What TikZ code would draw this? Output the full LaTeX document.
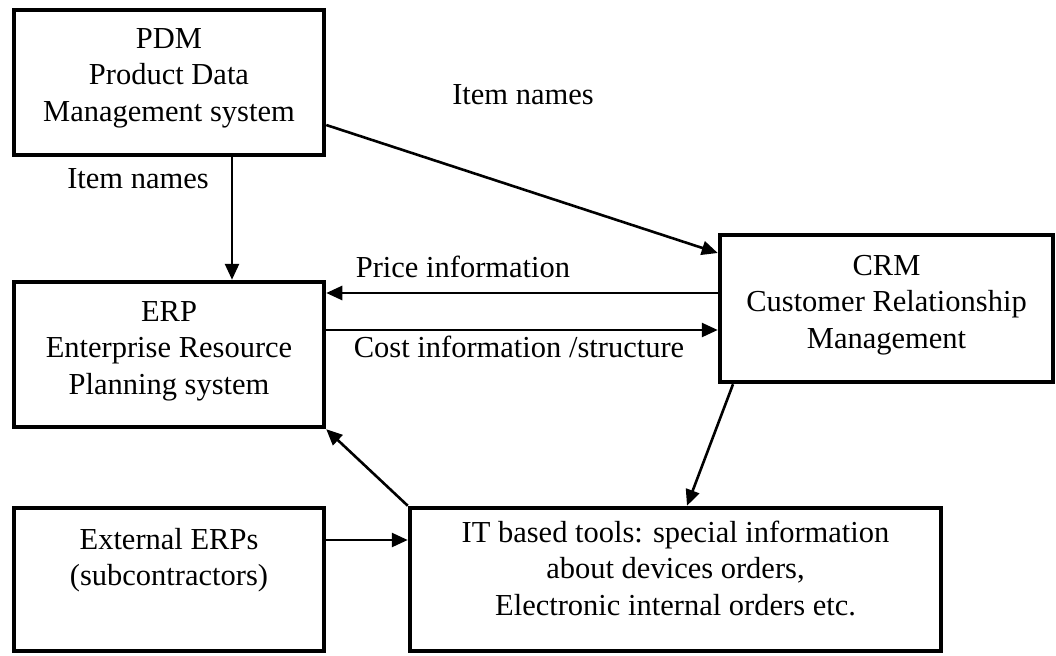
\documentclass[tikz,border=0pt]{standalone}
\usepackage{fontspec}
\setmainfont{Liberation Serif}
\usetikzlibrary{arrows.meta}

\begin{document}
\begin{tikzpicture}[x=1pt,y=-1pt,
  sysbox/.style={draw=black,line width=4.5pt,inner sep=0pt,fill=white},
  boxtext/.style={align=center,inner sep=0pt,font=\fontsize{30.5}{36.5}\selectfont},
  flowlabel/.style={anchor=base,inner sep=0pt,font=\fontsize{30.5}{36.5}\selectfont},
  flow/.style={line width=2.6pt,-{Triangle[length=16pt,width=14pt]}}
]
\useasboundingbox (0,0) rectangle (1056,655);

% system boxes
\node[sysbox,minimum width=310pt,minimum height=145pt] (pdm) at (169,82.5) {};
\node[sysbox,minimum width=310pt,minimum height=145pt] (erp) at (169,354.5) {};
\node[sysbox,minimum width=333pt,minimum height=147pt] (crm) at (886.5,308.5) {};
\node[sysbox,minimum width=310pt,minimum height=143pt] (ext) at (169,579.5) {};
\node[sysbox,minimum width=531pt,minimum height=143pt] (it)  at (675.5,579.5) {};

% box captions
\node[boxtext] (pdmtext) at (169,78) {PDM\\Product Data\\Management system};
\node[boxtext] (erptext) at (169,351) {ERP\\Enterprise Resource\\Planning system};
\node[boxtext] (crmtext) at (886.5,305) {CRM\\Customer Relationship\\Management};
\node[boxtext] (exttext) at (169,560) {External ERPs\\(subcontractors)};
\node[boxtext] (ittext)  at (675.5,568) {IT based tools: special information\\about devices orders,\\Electronic internal orders etc.};

% helper points on the box borders
\coordinate (priceA) at ([yshift=15.5pt]crm.west);
\coordinate (costA)  at ([yshift=-21.5pt]crm.west);
\coordinate (extA)   at ([yshift=39.5pt]ext.east);

% data flows
\draw[flow] ([xshift=63pt]pdm.south) -- ([xshift=63pt]erp.north);
\draw[flow] ([yshift=-42.5pt]pdm.east) -- ([yshift=55.5pt]crm.west);
\draw[flow] (priceA) -- (priceA -| erp.east);
\draw[flow] (costA -| erp.east) -- (costA);
\draw[flow] ([xshift=-153.5pt]crm.south) -- ([xshift=11.5pt]it.north);
\draw[flow] (it.north west) -- (erp.south east);
\draw[flow] (extA) -- (extA -| it.west);

% flow labels
\node[flowlabel] (lblitem1) at (138,188) {Item names};
\node[flowlabel] (lblitem2) at (523,105) {Item names};
\node[flowlabel] (lblprice) at (463,277) {Price information};
\node[flowlabel] (lblcost)  at (519,357) {Cost information /structure};
\end{tikzpicture}
\end{document}
